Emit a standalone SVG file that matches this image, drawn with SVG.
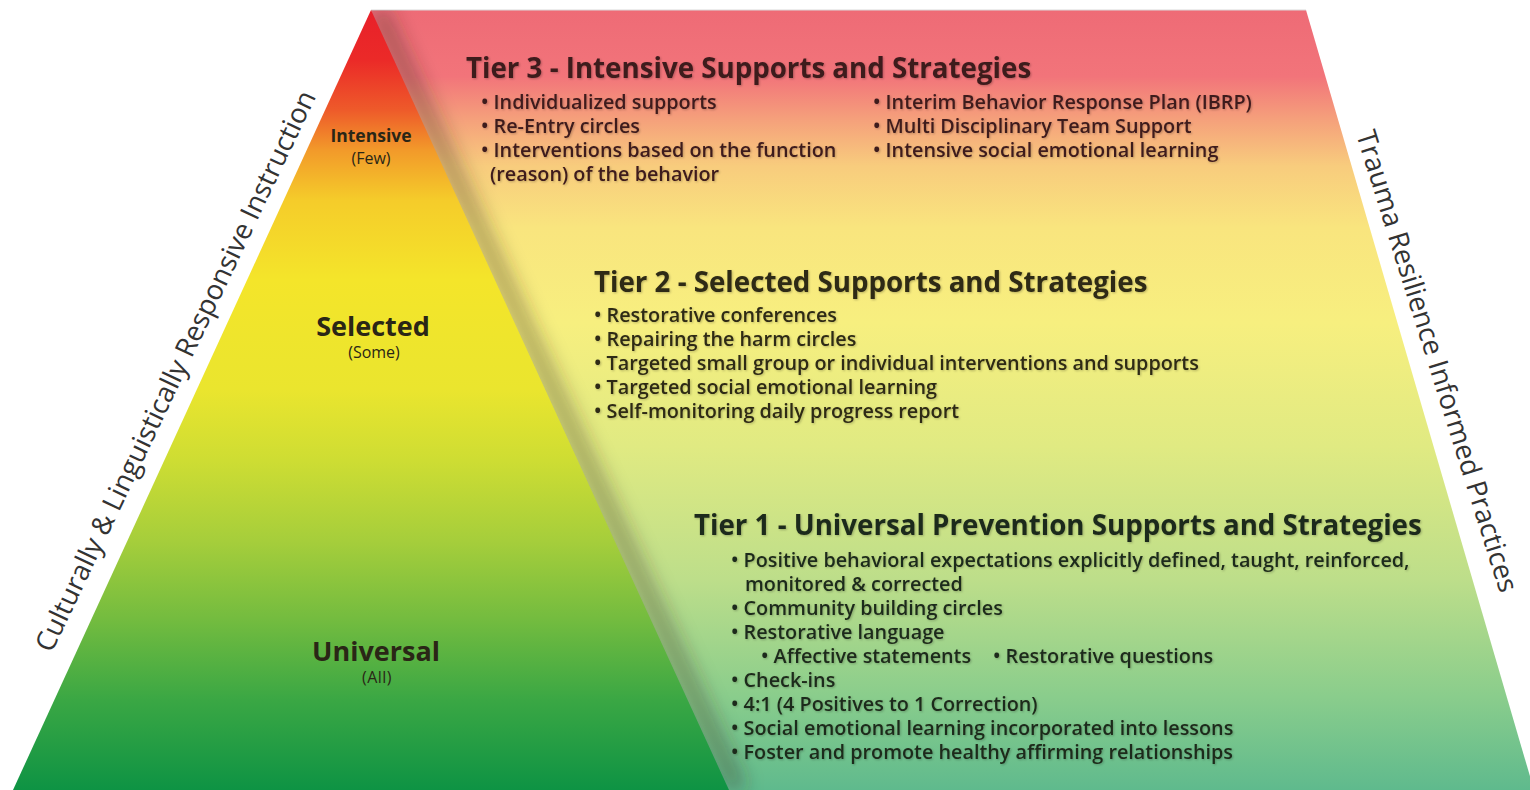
<svg xmlns="http://www.w3.org/2000/svg" width="1530" height="790" viewBox="0 0 1530 790">
  <defs>
    <linearGradient id="gradBack" gradientUnits="userSpaceOnUse" x1="0" y1="10" x2="0" y2="790">
      <stop offset="0" stop-color="#EE6B76"/>
      <stop offset="0.085" stop-color="#F2747A"/>
      <stop offset="0.14" stop-color="#F5A07B"/>
      <stop offset="0.2" stop-color="#F8CC7D"/>
      <stop offset="0.28" stop-color="#F9E57E"/>
      <stop offset="0.4" stop-color="#F7EF7F"/>
      <stop offset="0.56" stop-color="#E0EA82"/>
      <stop offset="0.73" stop-color="#BDDE8A"/>
      <stop offset="0.88" stop-color="#8ACD8C"/>
      <stop offset="1" stop-color="#5FBA8D"/>
    </linearGradient>
    <linearGradient id="gradPyramid" gradientUnits="userSpaceOnUse" x1="0" y1="10" x2="0" y2="790">
      <stop offset="0" stop-color="#E8202A"/>
      <stop offset="0.064" stop-color="#EB2A28"/>
      <stop offset="0.128" stop-color="#EE5A2A"/>
      <stop offset="0.18" stop-color="#F29A2A"/>
      <stop offset="0.244" stop-color="#F5CC2A"/>
      <stop offset="0.346" stop-color="#F4E52A"/>
      <stop offset="0.487" stop-color="#EAE52E"/>
      <stop offset="0.577" stop-color="#CEDD33"/>
      <stop offset="0.68" stop-color="#A6CE3B"/>
      <stop offset="0.78" stop-color="#74BC3F"/>
      <stop offset="0.885" stop-color="#3AA744"/>
      <stop offset="1" stop-color="#0E9344"/>
    </linearGradient>
    <clipPath id="backClip">
      <polygon points="371,10 1306,10 1534,790 560,790"/>
    </clipPath>
    <filter id="edgeShade" x="-20%" y="-20%" width="140%" height="140%">
      <feGaussianBlur stdDeviation="10"/>
    </filter>
    <filter id="textShade" x="-5%" y="-30%" width="110%" height="160%">
      <feDropShadow dx="1" dy="1" stdDeviation="1" flood-color="#000" flood-opacity="0.25"/>
    </filter>
  </defs>
  <style>
    .side { font-family: "Open Sans", "Liberation Sans", sans-serif; font-size: 27.5px; fill: #333; }
    .head { font-family: "Open Sans", "Liberation Sans", sans-serif; font-weight: 700; font-size: 27.7px; }
    .item { font-family: "Open Sans", "Liberation Sans", sans-serif; font-weight: 600; font-size: 19.8px; }
    .t3 { fill: #3E1A1C; }
    .t2 { fill: #2E2A14; }
    .t1 { fill: #1E2A1A; }
    .lvl { font-family: "Open Sans", "Liberation Sans", sans-serif; fill: #2A2616; text-anchor: middle; }
    .lvlBig { font-weight: 700; font-size: 27px; }
    .lvlSmall { font-weight: 700; font-size: 17.5px; }
    .sub { font-weight: 400; font-size: 16px; }
  </style>

  <!-- back trapezoid with strategies -->
  <g id="strategies-panel">
    <polygon points="371,10 1306,10 1534,790 560,790" fill="url(#gradBack)"/>
    <line x1="371" y1="10" x2="1306" y2="10" stroke="#d9d9d9" stroke-width="1"/>
    <g clip-path="url(#backClip)">
      <line x1="378" y1="10" x2="738" y2="790" stroke="#3a2a20" stroke-opacity="0.45" stroke-width="16" filter="url(#edgeShade)"/>
    </g>
  </g>

  <!-- pyramid -->
  <g id="pyramid">
    <polygon points="371,10 729,790 13,790" fill="url(#gradPyramid)"/>
    <text class="lvl lvlSmall" x="371" y="142">Intensive</text>
    <text class="lvl sub" x="371" y="164">(Few)</text>
    <text class="lvl lvlBig" x="373" y="336">Selected</text>
    <text class="lvl sub" x="374" y="358">(Some)</text>
    <text class="lvl lvlBig" x="376" y="661">Universal</text>
    <text class="lvl sub" x="377" y="683" font-size="15" letter-spacing="0.5">(All)</text>
  </g>

  <!-- side labels -->
  <g id="label-left">
    <text class="side" text-anchor="middle" transform="translate(184,375) rotate(-64.6)">Culturally &amp; Linguistically Responsive Instruction</text>
  </g>
  <g id="label-right">
    <text class="side" text-anchor="middle" transform="translate(1428,364) rotate(72.6)">Trauma Resilience Informed Practices</text>
  </g>

  <!-- tier 3 -->
  <g id="tier3" filter="url(#textShade)">
    <text class="head t3" x="466" y="78">Tier 3 - Intensive Supports and Strategies</text>
    <text class="item t3" x="481" y="109">• Individualized supports</text>
    <text class="item t3" x="481" y="133">• Re-Entry circles</text>
    <text class="item t3" x="481" y="157">• Interventions based on the function</text>
    <text class="item t3" x="490" y="181">(reason) of the behavior</text>
    <text class="item t3" x="873" y="109">• Interim Behavior Response Plan (IBRP)</text>
    <text class="item t3" x="873" y="133">• Multi Disciplinary Team Support</text>
    <text class="item t3" x="873" y="157">• Intensive social emotional learning</text>
  </g>

  <!-- tier 2 -->
  <g id="tier2" filter="url(#textShade)">
    <text class="head t2" x="594" y="292">Tier 2 - Selected Supports and Strategies</text>
    <text class="item t2" x="594" y="322">• Restorative conferences</text>
    <text class="item t2" x="594" y="346">• Repairing the harm circles</text>
    <text class="item t2" x="594" y="370">• Targeted small group or individual interventions and supports</text>
    <text class="item t2" x="594" y="394">• Targeted social emotional learning</text>
    <text class="item t2" x="594" y="418">• Self-monitoring daily progress report</text>
  </g>

  <!-- tier 1 -->
  <g id="tier1" filter="url(#textShade)">
    <text class="head t1" x="694" y="535">Tier 1 - Universal Prevention Supports and Strategies</text>
    <text class="item t1" x="731" y="567">• Positive behavioral expectations explicitly defined, taught, reinforced,</text>
    <text class="item t1" x="745" y="591">monitored &amp; corrected</text>
    <text class="item t1" x="731" y="615">• Community building circles</text>
    <text class="item t1" x="731" y="639">• Restorative language</text>
    <text class="item t1" x="761" y="663">• Affective statements</text>
    <text class="item t1" x="993" y="663">• Restorative questions</text>
    <text class="item t1" x="731" y="687">• Check-ins</text>
    <text class="item t1" x="731" y="711">• 4:1 (4 Positives to 1 Correction)</text>
    <text class="item t1" x="731" y="735">• Social emotional learning incorporated into lessons</text>
    <text class="item t1" x="731" y="759">• Foster and promote healthy affirming relationships</text>
  </g>
</svg>
